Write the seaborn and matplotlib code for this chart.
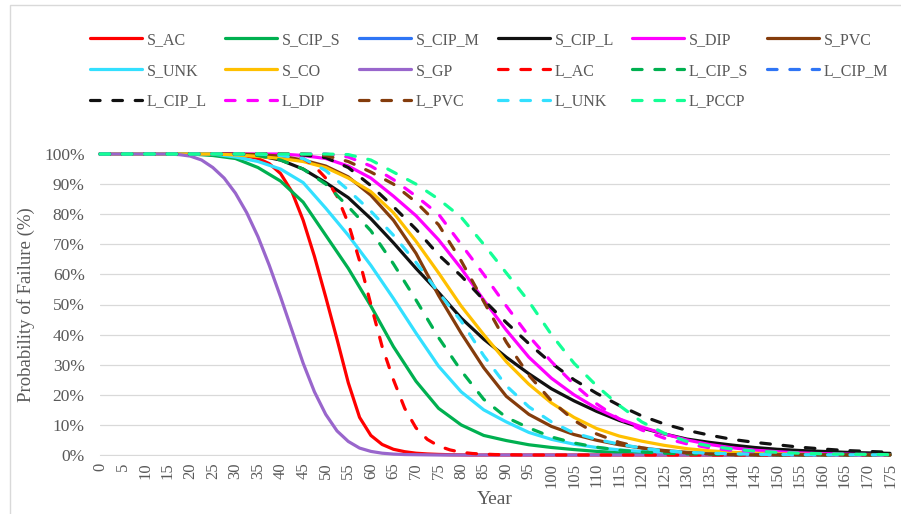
import matplotlib
matplotlib.use("Agg")
import matplotlib.pyplot as plt
import seaborn as sns
from matplotlib.lines import Line2D
from matplotlib.patches import Rectangle
from matplotlib.ticker import MultipleLocator, FuncFormatter

# ---------------- data (percent surviving) ----------------
# common 5-year grid
YEARS = [0, 5, 10, 15, 20, 25, 30, 35, 40, 45, 50, 55, 60, 65, 70, 75, 80, 85,
         90, 95, 100, 105, 110, 115, 120, 125, 130, 135, 140, 145, 150, 155, 160,
         165, 170, 175]
# finer grid for the steep curves (2.5 years up to 100, then 5 years)
YEARS_FINE = [0, 2.5, 5, 7.5, 10, 12.5, 15, 17.5, 20, 22.5, 25, 27.5, 30, 32.5, 35,
              37.5, 40, 42.5, 45, 47.5, 50, 52.5, 55, 57.5, 60, 62.5, 65, 67.5, 70,
              72.5, 75, 77.5, 80, 82.5, 85, 87.5, 90, 92.5, 95, 97.5, 100,
              105, 110, 115, 120, 125, 130, 135, 140, 145, 150, 155, 160, 165, 170, 175]

S_AC = [100, 100, 100, 100, 100, 100, 100, 100, 100, 100, 100, 99.9, 99.7, 99.3, 98.5,
        96.8, 93.5, 87.5, 78, 66, 52.5, 38.5, 24, 12.5, 6.5, 3.5, 1.9, 1.1, 0.6, 0.35,
        0.2, 0.1, 0.05, 0, 0, 0, 0, 0, 0, 0, 0,
        0, 0, 0, 0, 0, 0, 0, 0, 0, 0, 0, 0, 0, 0, 0]
S_CIP_S = [100, 100, 100, 100, 100, 99.5, 98.5, 95.5, 91, 84, 73, 62, 49.5, 36, 24.5, 15.5,
           10, 6.5, 4.8, 3.4, 2.5, 1.8, 1.2, 0.8, 0.55, 0.35, 0.25, 0.15, 0.1, 0.05, 0.05,
           0.05, 0.05, 0.05, 0.05, 0.05]
S_CIP_M = []
S_CIP_L = [100, 100, 100, 100, 100, 100, 100, 99.5, 98, 95, 90.5, 85.5, 78.5, 70.5, 62, 54,
           45.5, 38.5, 32.5, 27, 22, 18, 14.5, 11.5, 9, 7, 5.3, 4.2, 3.3, 2.5, 1.9, 1.5, 1.2,
           0.9, 0.7, 0.55]
S_DIP = [100, 100, 100, 100, 100, 100, 100, 100, 100, 99.5, 98.5, 96, 92, 86, 79.5, 71.5,
         62, 51.5, 41.5, 32.5, 25.5, 20, 15.5, 12, 9.3, 7, 5, 3.5, 2.4, 1.6, 1.1, 0.7, 0.45,
         0.3, 0.2, 0.1]
S_PVC = [100, 100, 100, 100, 100, 100, 100, 99.8, 99.3, 98, 96, 92.4, 86.3, 78, 67, 53,
         40.5, 29, 19.5, 13.5, 9.5, 6.8, 4.9, 3.4, 2.3, 1.5, 0.9, 0.55, 0.35, 0.2, 0.1, 0.05,
         0.05, 0.05, 0.05, 0.05]
S_UNK = [100, 100, 100, 100, 100, 100, 99, 97.5, 95, 90.5, 82, 73, 63, 52, 40.5, 29.5,
         21, 15, 11, 7.5, 5.2, 3.6, 2.5, 1.7, 1.2, 0.8, 0.55, 0.35, 0.25, 0.15, 0.1, 0.05,
         0.05, 0.05, 0.05, 0.05]
S_CO = [100, 100, 100, 100, 100, 100, 99.7, 99.2, 98.5, 97.5, 95.5, 92, 87.5, 80.5, 71, 60.5,
        49.5, 40, 31, 23.5, 17.3, 12.5, 8.8, 6.3, 4.6, 3.2, 2.1, 1.4, 0.9, 0.6, 0.4, 0.25,
        0.15, 0.1, 0.05, 0.05]
S_GP = [100, 100, 100, 100, 100, 100, 100, 99.8, 99.3, 98, 95.5, 92, 87, 80.5, 72.5,
        63, 52.5, 41.5, 30.5, 21, 13.5, 8, 4.5, 2.3, 1.2, 0.6, 0.3, 0.15, 0.1, 0.05,
        0, 0, 0, 0, 0, 0, 0, 0, 0, 0, 0,
        0, 0, 0, 0, 0, 0, 0, 0, 0, 0, 0, 0, 0, 0, 0]
L_AC = [100, 100, 100, 100, 100, 100, 100, 100, 100, 100, 100, 100, 100, 100, 100,
        100, 99.8, 99.4, 98.5, 96, 92, 86, 77, 64.5, 50, 36, 25, 15.5, 9, 5.2,
        3, 1.7, 0.9, 0.5, 0.3, 0.15, 0.1, 0.05, 0, 0, 0,
        0, 0, 0, 0, 0, 0, 0, 0, 0, 0, 0, 0, 0, 0, 0]
L_CIP_S = [100, 100, 100, 100, 100, 100, 100, 99.5, 98, 95, 90, 82.5, 74.5, 63.5, 51.5, 39,
           28, 18.5, 12.5, 9, 6, 4, 2.6, 1.6, 1, 0.6, 0.4, 0.25, 0.15, 0.1, 0.05, 0.05,
           0.05, 0.05, 0.05, 0.05]
L_CIP_M = []
L_CIP_L = [100, 100, 100, 100, 100, 100, 100, 100, 100, 99.7, 98.8, 95.5, 89.5, 82.5, 75, 66.5,
           59.5, 51.5, 44, 37, 30.5, 25, 20.5, 16.5, 13, 10.3, 8.2, 6.6, 5.2, 4.2, 3.4, 2.6,
           2, 1.5, 1.2, 0.9]
L_DIP = [100, 100, 100, 100, 100, 100, 100, 100, 100, 100, 100, 99, 96, 91.5, 86, 80,
         70, 60, 49.5, 39.5, 31, 23.5, 17, 12, 8.3, 5.6, 3.7, 2.4, 1.5, 0.9, 0.55, 0.3,
         0.2, 0.1, 0.05, 0.05]
L_PVC = [100, 100, 100, 100, 100, 100, 100, 100, 100, 100, 99.5, 97.5, 94, 90, 84, 76.5,
         64.5, 51, 37.5, 26.5, 18, 11.5, 7, 4.2, 2.4, 1.3, 0.7, 0.35, 0.15, 0.05, 0.05, 0.05,
         0.05, 0.05, 0.05, 0.05]
L_UNK = [100, 100, 100, 100, 100, 100, 100, 100, 99.5, 98.5, 94.5, 88, 81, 73, 64, 54,
         44.5, 33, 23, 16, 11, 7.3, 5.2, 3.6, 2.3, 1.4, 0.9, 0.6, 0.4, 0.25, 0.15, 0.1,
         0.05, 0.05, 0.05, 0.05]
L_PCCP = [100, 100, 100, 100, 100, 100, 100, 100, 100, 100, 100, 99.8, 98, 94, 90, 85,
          79, 70, 60.5, 51, 40, 30.5, 23, 16.5, 11, 7.2, 4.5, 3, 2, 1.3, 0.9, 0.6,
          0.4, 0.3, 0.2, 0.1]

SERIES_NAMES = ["S_AC", "S_CIP_S", "S_CIP_M", "S_CIP_L", "S_DIP", "S_PVC",
                "S_UNK", "S_CO", "S_GP", "L_AC", "L_CIP_S", "L_CIP_M",
                "L_CIP_L", "L_DIP", "L_PVC", "L_UNK", "L_PCCP"]
SERIES_VALUES = [S_AC, S_CIP_S, S_CIP_M, S_CIP_L, S_DIP, S_PVC, S_UNK, S_CO, S_GP,
                 L_AC, L_CIP_S, L_CIP_M, L_CIP_L, L_DIP, L_PVC, L_UNK, L_PCCP]

COLORS = {"AC": "#ff0000", "CIP_S": "#00b050", "CIP_M": "#2f75f5", "CIP_L": "#111111",
          "DIP": "#ff00ff", "PVC": "#843c0c", "UNK": "#33e0ff", "CO": "#ffc000",
          "GP": "#9966cc", "PCCP": "#14ff96"}

# ---------------- styling ----------------
sns.set_style("white")
plt.rcParams["font.family"] = ["Liberation Serif", "DejaVu Serif"]
GRAY_TXT = "#595959"
GRID = "#d9d9d9"
LW = 2.3
DASH = (3, 4)

fig = plt.figure(figsize=(9.01, 5.14), dpi=100)
ax = fig.add_axes([100 / 901, 59 / 514, 790 / 901, 301 / 514])

handles = []
for i, (name, vals) in enumerate(zip(SERIES_NAMES, SERIES_VALUES)):
    color = COLORS[name[2:]]
    dashed = name.startswith("L_")
    if vals:
        xs = YEARS if len(vals) == len(YEARS) else YEARS_FINE
        assert len(xs) == len(vals)
        sns.lineplot(x=xs, y=vals, ax=ax, color=color, linewidth=LW,
                     estimator=None, zorder=3 + i * 0.01)
        ln = ax.lines[-1]
        ln.set_clip_on(False)
        ln.set_solid_capstyle("round")
        ln.set_solid_joinstyle("round")
        if dashed:
            ln.set_dashes(DASH)
            ln.set_dash_capstyle("round")
    h = Line2D([0], [0], color=color, linewidth=LW, solid_capstyle="round")
    if dashed:
        h.set_dashes(DASH)
        h.set_dash_capstyle("round")
    handles.append(h)

ax.set_xlim(0, 175)
ax.set_ylim(0, 100)
ax.xaxis.set_major_locator(MultipleLocator(5))
ax.xaxis.set_minor_locator(MultipleLocator(1))
ax.yaxis.set_major_locator(MultipleLocator(10))
ax.yaxis.set_major_formatter(FuncFormatter(lambda v, p: f"{v:.0f}%"))
ax.tick_params(axis="x", which="both", direction="inout", length=7, width=0.75,
               color=GRID, labelsize=12, labelcolor=GRAY_TXT, pad=2, labelrotation=90)
ax.tick_params(axis="y", length=0, pad=11, labelsize=12.5, labelcolor=GRAY_TXT)
ax.grid(axis="y", color=GRID, linewidth=0.9)
ax.grid(axis="x", visible=False)
ax.set_axisbelow(True)
for s in ["top", "right", "left"]:
    ax.spines[s].set_visible(False)
ax.spines["bottom"].set_color(GRID)
ax.spines["bottom"].set_linewidth(0.75)

ax.set_xlabel("Year", fontsize=14, color=GRAY_TXT, labelpad=2)
ax.set_ylabel("Probability of Failure (%)", fontsize=13.5, color=GRAY_TXT)
ax.yaxis.set_label_coords(-0.082, 0.5)

# legend: row-wise order in 6 columns (matplotlib fills column-wise)
ncol = 6
order = []
for j in range(ncol):
    for r in range(3):
        k = r * ncol + j
        if k < len(SERIES_NAMES):
            order.append(k)
fig.legend([handles[k] for k in order], [SERIES_NAMES[k] for k in order],
           ncol=ncol, loc="upper left", bbox_to_anchor=(90 / 901, 1 - 32 / 514),
           frameon=False, fontsize=11.5, handlelength=3.25, handletextpad=0.3,
           columnspacing=1.15, labelspacing=0.92, borderpad=0, borderaxespad=0,
           labelcolor=GRAY_TXT)

# chart-area border (top and left visible)
fig.patches.append(Rectangle((10 / 901, -0.2), 1.2, 0.2 + (514 - 5) / 514,
                             transform=fig.transFigure, fill=False,
                             edgecolor=GRID, linewidth=1.0))

fig.savefig("out.png", dpi=100)
